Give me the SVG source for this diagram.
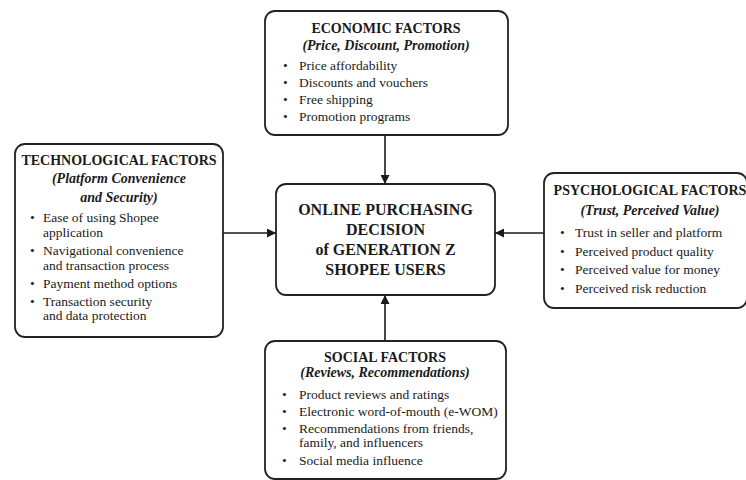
<svg xmlns="http://www.w3.org/2000/svg" width="746" height="480" viewBox="0 0 746 480">
<defs>
<marker id="ah" viewBox="0 0 10 10" refX="10" refY="5" markerWidth="9" markerHeight="9" markerUnits="userSpaceOnUse" orient="auto">
<path d="M0,0 L10,5 L0,10 z" fill="#1a1a1a"/>
</marker>
</defs>
<style>
.box{fill:#ffffff;stroke:#222222;stroke-width:1.8}
.ttl{font-family:"Liberation Serif","Times New Roman",serif;font-weight:bold;font-size:14px;fill:#1a1a1a;text-anchor:middle}
.sub{font-family:"Liberation Serif","Times New Roman",serif;font-weight:bold;font-style:italic;font-size:14px;fill:#1a1a1a;text-anchor:middle}
.itm{font-family:"Liberation Serif","Times New Roman",serif;font-size:13.5px;fill:#1a1a1a}
.ctr{font-family:"Liberation Serif","Times New Roman",serif;font-weight:bold;font-size:16px;fill:#1a1a1a;text-anchor:middle}
.con{stroke:#1a1a1a;stroke-width:1.6;fill:none;marker-end:url(#ah)}
</style>
<rect width="746" height="480" fill="#ffffff"/>
<g id="connectors">
<line class="con" x1="385" y1="135" x2="385" y2="184"/>
<line class="con" x1="223" y1="233" x2="276" y2="233"/>
<line class="con" x1="544" y1="233" x2="495" y2="233"/>
<line class="con" x1="385" y1="341" x2="385" y2="295"/>
</g>
<g id="economic">
<rect class="box" x="265" y="11" width="243" height="124" rx="10"/>
<text class="ttl" x="386" y="33">ECONOMIC FACTORS</text>
<text class="sub" x="386" y="50">(Price, Discount, Promotion)</text>
<g class="itm">
<text x="283" y="70">•</text><text x="299" y="70">Price affordability</text>
<text x="283" y="87">•</text><text x="299" y="87">Discounts and vouchers</text>
<text x="283" y="104">•</text><text x="299" y="104">Free shipping</text>
<text x="283" y="121">•</text><text x="299" y="121">Promotion programs</text>
</g>
</g>
<g id="technological">
<rect class="box" x="15" y="144" width="208" height="193" rx="10"/>
<text class="ttl" x="119" y="165">TECHNOLOGICAL FACTORS</text>
<text class="sub" x="119" y="183">(Platform Convenience</text>
<text class="sub" x="119" y="202">and Security)</text>
<g class="itm">
<text x="30" y="222">•</text><text x="43" y="222">Ease of using Shopee</text>
<text x="43" y="237">application</text>
<text x="30" y="255">•</text><text x="43" y="255">Navigational convenience</text>
<text x="43" y="270">and transaction process</text>
<text x="30" y="288">•</text><text x="43" y="288">Payment method options</text>
<text x="30" y="306">•</text><text x="43" y="306">Transaction security</text>
<text x="43" y="320">and data protection</text>
</g>
</g>
<g id="decision">
<rect class="box" x="276" y="184" width="219" height="111" rx="10"/>
<text class="ctr" x="385.5" y="215">ONLINE PURCHASING</text>
<text class="ctr" x="385.5" y="235">DECISION</text>
<text class="ctr" x="385.5" y="255">of GENERATION Z</text>
<text class="ctr" x="385.5" y="275">SHOPEE USERS</text>
</g>
<g id="psychological">
<rect class="box" x="544" y="173" width="203" height="135" rx="10"/>
<text class="ttl" x="650" y="195">PSYCHOLOGICAL FACTORS</text>
<text class="sub" x="650" y="215">(Trust, Perceived Value)</text>
<g class="itm">
<text x="560" y="237">•</text><text x="575" y="237">Trust in seller and platform</text>
<text x="560" y="256">•</text><text x="575" y="256">Perceived product quality</text>
<text x="560" y="274">•</text><text x="575" y="274">Perceived value for money</text>
<text x="560" y="293">•</text><text x="575" y="293">Perceived risk reduction</text>
</g>
</g>
<g id="social">
<rect class="box" x="265" y="341" width="241" height="138" rx="10"/>
<text class="ttl" x="385" y="362">SOCIAL FACTORS</text>
<text class="sub" x="385" y="377">(Reviews, Recommendations)</text>
<g class="itm">
<text x="282" y="399">•</text><text x="299" y="399">Product reviews and ratings</text>
<text x="282" y="416">•</text><text x="299" y="416">Electronic word-of-mouth (e-WOM)</text>
<text x="282" y="433">•</text><text x="299" y="433">Recommendations from friends,</text>
<text x="299" y="447">family, and influencers</text>
<text x="282" y="465">•</text><text x="299" y="465">Social media influence</text>
</g>
</g>
</svg>
